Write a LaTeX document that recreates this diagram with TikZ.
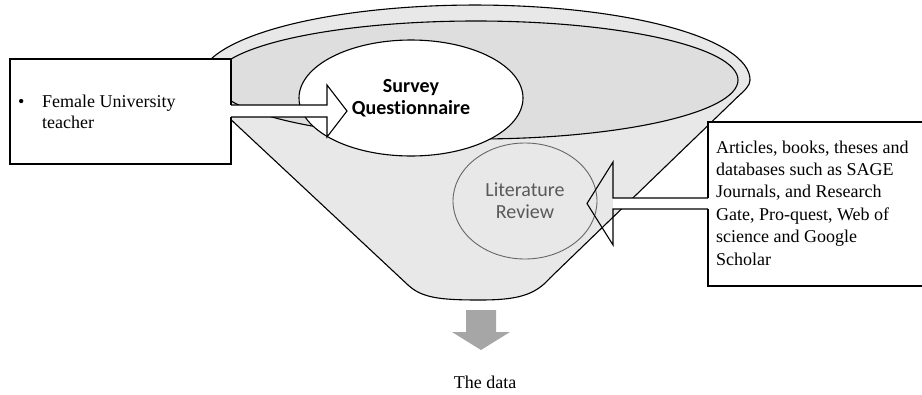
\documentclass[tikz,border=0pt]{standalone}
\usepackage{fontspec}
\setmainfont{Liberation Serif}
\newfontfamily\calibri[Ligatures={NoCommon}]{Carlito}
\usetikzlibrary{shapes.geometric}
\begin{document}
\begin{tikzpicture}[x=1pt,y=-1pt,line join=miter,
  outl/.style={draw=black,line width=1.1pt},
  txt/.style={font=\fontsize{18}{22}\selectfont,inner sep=0pt,anchor=base west},
  boxnode/.style={draw=black,line width=1.1pt,fill=white,inner sep=0pt,outer sep=0pt,anchor=north west},
  funnelfill/.style={fill=black!9},
]
\useasboundingbox (0,0) rectangle (922,394);
\fill[white] (0,0) rectangle (922,394);

% funnel body
\path[outl,funnelfill] (210.7,100.7)
  arc[start angle=196,end angle=0,x radius=275pt,y radius=75pt]
  .. controls (750,86) and (744,91) .. (738,96.5)
  -- (550,278)
  .. controls (535,295) and (518,300) .. (480,300)
  .. controls (440,300) and (422,298) .. (408,285)
  -- cycle;
% inner rim
\path[outl,fill=black!13] (476,80) ellipse [x radius=262pt,y radius=59pt];

% survey ellipse
\node (survey) [ellipse,draw=black,line width=1.1pt,fill=white,minimum width=224pt,minimum height=116pt,inner sep=0pt,
  align=center,font=\calibri\bfseries\fontsize{20}{22}\selectfont] at (411,98) {Survey\\Questionnaire};

% literature review
\node (lit) [ellipse,draw=black!60,line width=0.9pt,funnelfill,minimum width=144pt,minimum height=116pt,inner sep=0pt,
  align=center,text=black!65,font=\calibri\fontsize{20}{22}\selectfont] at (525,201) {Literature\\Review};

% left box
\node (lbox) [boxnode,minimum width=221pt,minimum height=105pt] at (10,59) {};
\node[txt] (bul) at (18,107) {•};
\node[txt] (l1) at (42,107) {Female University};
\node[txt] (l2) at (42,128) {teacher};

% left arrow
\fill[white] (229.5,105) rectangle (327,117);
\draw[outl] (231,105) -- (327,105) -- (327,85) -- (347,111) -- (327,137) -- (327,117) -- (231,117);

% right box
\node (rbox) [boxnode,minimum width=240pt,minimum height=164pt] at (708,122) {};
\node[txt] (r1) at (716,153) {Articles, books, theses and};
\node[txt] (r2) at (716,175.4) {databases such as SAGE};
\node[txt] (r3) at (716,197.8) {Journals, and Research};
\node[txt] (r4) at (716,220.2) {Gate, Pro-quest, Web of};
\node[txt] (r5) at (716,242.6) {science and Google};
\node[txt] (r6) at (716,265) {Scholar};

% right arrow
\fill[white] (613,198) rectangle (709.5,209);
\draw[outl] (708,198) -- (613,198) -- (613,162) -- (587,203.5) -- (613,245) -- (613,209) -- (708,209);

% bottom arrow
\fill[black!35] (466,310) -- (496,310) -- (496,332) -- (510,332) -- (481,350) -- (452,332) -- (466,332) -- cycle;
\node[txt,anchor=base] (data) at (485,388) {The data};
\end{tikzpicture}
\end{document}
